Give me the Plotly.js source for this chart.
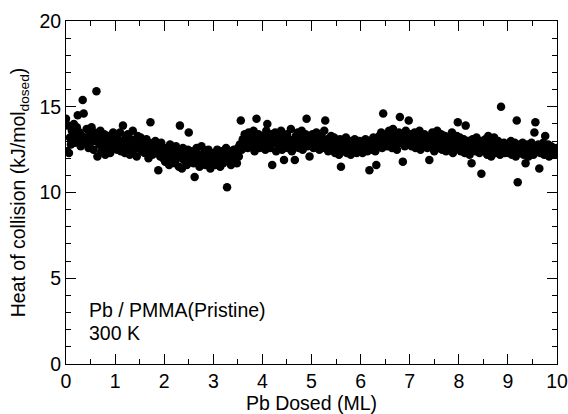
<!DOCTYPE html>
<html>
<head>
<meta charset="utf-8">
<script src="https://cdn.plot.ly/plotly-3.0.1.min.js"></script>
<style>html,body{margin:0;padding:0;background:#fff;}#chart{width:568px;height:414px;}</style>
</head>
<body>
<div id="chart"></div>
<script>
// Dose step between successive measurements (ML)
const doseStep = 0.02;

// Heat of collision (kJ/mol_dosed), one array per monolayer of dose
const heat_0to1 = [14.3,12.4,13.9,12.3,13.2,12.8,13.6,13.1,14.0,12.9,
  13.4,13.8,14.5,13.0,13.5,12.7,13.3,15.4,14.6,13.2,
  12.9,13.7,13.1,12.6,13.4,12.9,13.8,13.2,12.5,13.5,
  13.0,15.9,12.1,13.3,12.8,13.6,12.4,13.1,12.7,13.4,
  12.2,13.0,12.6,13.3,12.9,12.3,13.2,12.8,13.5,12.6];
const heat_1to2 = [12.9,13.3,12.5,13.1,12.7,13.5,12.4,13.0,13.9,12.8,
  12.3,13.2,12.6,13.4,12.9,12.2,13.1,12.7,13.6,12.5,
  13.0,12.8,12.1,13.3,12.6,12.9,13.2,12.4,12.8,13.0,
  12.3,12.7,13.1,12.5,12.0,12.9,14.1,12.6,12.2,12.8,
  12.5,13.0,12.3,12.7,11.3,12.6,12.1,12.9,12.4,12.0];
const heat_2to3 = [12.4,11.8,12.6,12.0,12.3,11.6,12.8,12.1,11.9,12.5,
  12.2,11.7,12.7,12.0,12.4,11.5,13.9,12.2,11.4,12.6,
  11.9,12.3,12.0,11.6,12.5,13.5,12.1,11.8,12.4,12.0,
  11.7,10.9,12.3,12.6,11.9,12.2,11.5,12.0,12.7,11.8,
  12.1,12.4,11.6,12.2,11.9,12.5,12.0,11.4,12.3,11.8];
const heat_3to4 = [11.9,12.3,11.6,12.1,12.5,11.8,12.2,11.5,12.4,12.0,
  11.7,12.3,11.9,12.6,10.3,12.1,11.8,12.4,11.6,12.2,
  12.0,12.5,11.9,12.3,11.7,12.6,12.1,12.8,14.2,12.5,
  13.1,12.7,13.4,12.9,13.2,12.6,13.5,13.0,12.8,13.3,
  12.7,13.6,12.4,13.1,14.3,12.9,13.4,12.6,13.2,13.0];
const heat_4to5 = [13.3,12.7,13.1,12.5,13.6,14.0,12.8,13.2,12.6,13.4,
  11.6,13.0,12.9,13.5,12.4,13.1,12.8,13.3,12.7,13.6,
  12.5,13.0,11.9,13.2,12.8,13.4,12.6,13.1,12.9,13.7,
  12.4,13.0,12.7,11.9,13.3,12.8,13.5,12.6,13.2,12.9,
  13.6,12.5,13.1,12.8,13.4,14.3,12.7,13.0,12.1,13.3];
const heat_5to6 = [12.9,13.4,12.6,13.1,12.8,13.5,12.7,13.2,12.5,13.0,
  13.3,12.6,12.9,13.6,14.2,12.8,13.1,12.4,13.0,12.7,
  13.3,12.5,12.9,13.2,12.3,12.8,13.0,12.6,12.2,13.1,
  11.5,12.7,12.4,12.9,12.6,13.2,12.3,12.8,12.5,13.0,
  12.2,12.7,12.9,12.4,13.1,12.6,12.3,12.8,12.5,13.0];
const heat_6to7 = [12.6,12.9,12.3,12.8,12.5,13.1,12.7,12.4,13.0,11.3,
  12.6,12.9,12.5,13.2,12.8,12.4,11.6,13.0,12.7,13.3,
  12.9,13.5,12.6,14.6,13.1,12.8,13.4,12.7,13.2,13.6,
  12.9,13.3,12.6,13.7,13.0,12.8,13.4,12.5,13.1,13.5,
  14.4,12.9,13.3,11.8,13.0,12.7,13.6,12.8,13.2,14.2];
const heat_7to8 = [13.0,13.4,12.7,13.2,12.9,13.5,12.6,13.1,13.3,12.8,
  13.6,12.5,13.0,13.3,12.8,13.4,12.7,13.1,12.6,13.2,
  11.9,13.0,12.7,13.5,12.9,12.4,13.2,12.8,13.6,12.6,
  13.1,12.9,13.4,12.5,13.0,12.7,13.3,12.4,12.9,13.2,
  12.6,13.0,12.8,13.5,12.3,12.9,13.1,12.6,13.3,14.1];
const heat_8to9 = [12.7,13.2,12.4,12.9,12.6,13.1,12.3,13.9,12.8,12.5,
  13.0,12.2,12.7,11.7,13.1,12.6,12.9,12.4,13.2,12.5,
  12.8,12.3,13.0,11.1,12.6,12.9,12.4,13.1,12.7,12.2,
  13.3,12.5,12.8,12.1,12.9,12.6,13.2,12.3,12.7,12.4,
  13.0,12.6,12.2,15.0,12.8,12.5,12.9,12.3,12.7,12.4];
const heat_9to10 = [12.8,12.3,12.6,13.0,12.2,12.7,12.4,12.9,12.1,14.2,
  10.6,12.5,12.8,12.3,12.6,12.9,12.2,12.7,11.7,12.4,
  12.8,12.1,12.6,12.3,12.9,12.5,12.2,13.5,14.1,12.6,
  12.4,12.8,11.4,12.3,12.7,12.5,12.9,12.2,13.3,12.6,
  12.4,12.8,12.1,12.5,12.7,12.3,12.6,12.2,12.5,12.4,
  12.6];

const heat = [].concat(heat_0to1, heat_1to2, heat_2to3, heat_3to4, heat_4to5,
  heat_5to6, heat_6to7, heat_7to8, heat_8to9, heat_9to10);
const dose = heat.map((_, i) => +(i * doseStep).toFixed(2));

const xTitle = 'Pb Dosed (ML)';
const yTitle = 'Heat of collision (kJ/mol<sub>dosed</sub>)';
const label1 = 'Pb / PMMA(Pristine)';
const label2 = '300 K';

const fontFam = 'Liberation Sans, Arial, Helvetica, sans-serif';
const fs = 19.5;

const trace = {
  x: dose, y: heat, type: 'scatter', mode: 'markers',
  marker: {color: '#000', size: 8.5, line: {width: 0}},
  hoverinfo: 'x+y'
};

const axisCommon = {
  showline: true, linecolor: '#000', linewidth: 1, mirror: 'ticks',
  ticks: 'inside', ticklen: 10, tickwidth: 1, tickcolor: '#000',
  showgrid: false, zeroline: false,
  tickfont: {family: fontFam, size: fs, color: '#000'}
};

const layout = {
  width: 568, height: 414,
  margin: {l: 66, r: 11, t: 21, b: 50, pad: 0},
  paper_bgcolor: '#fff', plot_bgcolor: '#fff',
  showlegend: false,
  font: {family: fontFam, color: '#000'},
  xaxis: Object.assign({}, axisCommon, {
    range: [0, 10], dtick: 1, tick0: 0,
    minor: {dtick: 0.5, ticks: 'inside', ticklen: 5, tickcolor: '#000', showgrid: false},
    title: {text: xTitle, font: {family: fontFam, size: fs, color: '#000'}, standoff: 2}
  }),
  yaxis: Object.assign({}, axisCommon, {
    range: [0, 20], dtick: 5, tick0: 0,
    minor: {dtick: 1, ticks: 'inside', ticklen: 5, tickcolor: '#000', showgrid: false},
    title: {text: yTitle, font: {family: fontFam, size: fs, color: '#000'}, standoff: 8}
  }),
  annotations: [
    {xref: 'paper', yref: 'paper', x: 0.043, y: 0.157, xanchor: 'left', yanchor: 'middle',
     text: label1, showarrow: false, font: {family: fontFam, size: fs, color: '#000'}},
    {xref: 'paper', yref: 'paper', x: 0.043, y: 0.090, xanchor: 'left', yanchor: 'middle',
     text: label2, showarrow: false, font: {family: fontFam, size: fs, color: '#000'}}
  ]
};

Plotly.newPlot('chart', [trace], layout, {displayModeBar: false, staticPlot: true});
</script>
</body>
</html>
